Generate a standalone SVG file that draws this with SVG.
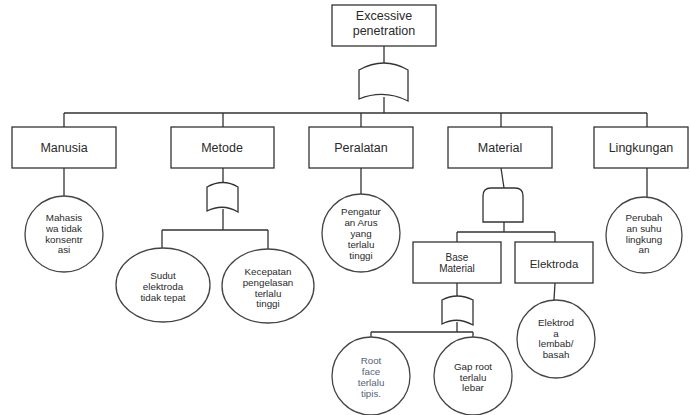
<svg xmlns="http://www.w3.org/2000/svg" width="690" height="415" viewBox="0 0 690 415">
  <defs>
    <style>
      .box { fill: #ffffff; stroke: #333333; stroke-width: 1.3; }
      .ev { fill: #ffffff; stroke: #444444; stroke-width: 1.3; }
      .gate { fill: #ffffff; stroke: #333333; stroke-width: 1.3; }
      .wire { fill: none; stroke: #333333; stroke-width: 1.3; }
      .lbl { font-family: "Liberation Sans", Arial, sans-serif; font-size: 12.5px; fill: #2a2a2a; text-anchor: middle; }
      .sm { font-family: "Liberation Sans", Arial, sans-serif; font-size: 9.8px; fill: #2a2a2a; text-anchor: middle; }
    </style>
  </defs>
  <rect width="690" height="415" fill="#ffffff"/>

  <!-- connectors -->
  <g id="connectors">
    <path class="wire" d="M384 46 V64 M384 97 V113 M64 113 H647 M64 113 V127 M223 113 V127 M361 113 V127 M501 113 V127 M647 113 V127"/>
    <path class="wire" d="M64 168 V196 M361 168 V194 M647 168 V197"/>
    <path class="wire" d="M223 168 V184 M223 209 V230 M162 230 H268 M162 230 V249 M268 230 V249"/>
    <path class="wire" d="M501 168 L504 188 M504 222 V232 M457 232 H555 M457 232 V242 M555 232 V242"/>
    <path class="wire" d="M457 283 V298 M457 322 V332 M371 332 H473 M371 332 V338 M473 332 V338"/>
    <path class="wire" d="M555 283 L554 300"/>
  </g>

  <!-- top event -->
  <g id="top">
    <rect class="box" x="332" y="5" width="104" height="41"/>
    <text class="lbl" x="384" y="20">Excessive</text>
    <text class="lbl" x="384" y="35">penetration</text>
  </g>

  <!-- OR gates -->
  <g id="gate-top">
    <path class="gate" d="M359 70 Q384 56 408 70 V101 Q384 89 359 99 Z"/>
  </g>
  <g id="gate-metode">
    <path class="gate" d="M207 187 Q223 178 238 187 V212 Q223 203 207 211 Z"/>
  </g>
  <g id="gate-base">
    <path class="gate" d="M442 300 Q457 292 473 300 V325 Q457 316 442 324 Z"/>
  </g>
  <!-- AND gate -->
  <g id="gate-material">
    <path class="gate" d="M483 222 V196 Q483 188 491 188 H515 Q523 188 523 196 V222 Z"/>
  </g>

  <!-- category boxes -->
  <g id="manusia">
    <rect class="box" x="12" y="127" width="104" height="41"/>
    <text class="lbl" x="64" y="152">Manusia</text>
  </g>
  <g id="metode">
    <rect class="box" x="171" y="127" width="103" height="41"/>
    <text class="lbl" x="222" y="152">Metode</text>
  </g>
  <g id="peralatan">
    <rect class="box" x="309" y="127" width="104" height="41"/>
    <text class="lbl" x="361" y="152">Peralatan</text>
  </g>
  <g id="material">
    <rect class="box" x="448" y="127" width="104" height="41"/>
    <text class="lbl" x="500" y="152">Material</text>
  </g>
  <g id="lingkungan">
    <rect class="box" x="594" y="127" width="94" height="41"/>
    <text class="lbl" x="641" y="152">Lingkungan</text>
  </g>
  <g id="base-material">
    <rect class="box" x="413" y="242" width="88" height="41"/>
    <text class="sm" x="457" y="261" style="font-size:10px">Base</text>
    <text class="sm" x="457" y="272" style="font-size:10px">Material</text>
  </g>
  <g id="elektroda">
    <rect class="box" x="515" y="242" width="78" height="41"/>
    <text class="lbl" x="554" y="268" style="font-size:11.5px">Elektroda</text>
  </g>

  <!-- basic events -->
  <g id="ev-mahasiswa">
    <ellipse class="ev" cx="64" cy="234" rx="39" ry="38"/>
    <text class="sm" x="64" y="221">Mahasis</text>
    <text class="sm" x="64" y="232">wa tidak</text>
    <text class="sm" x="64" y="242.5">konsentr</text>
    <text class="sm" x="64" y="253">asi</text>
  </g>
  <g id="ev-sudut">
    <ellipse class="ev" cx="163" cy="285" rx="47" ry="37"/>
    <text class="sm" x="163" y="279">Sudut</text>
    <text class="sm" x="163" y="290">elektroda</text>
    <text class="sm" x="163" y="300.5">tidak tepat</text>
  </g>
  <g id="ev-kecepatan">
    <ellipse class="ev" cx="268" cy="286" rx="46" ry="37"/>
    <text class="sm" x="268" y="275">Kecepatan</text>
    <text class="sm" x="268" y="286">pengelasan</text>
    <text class="sm" x="268" y="296.5">terlalu</text>
    <text class="sm" x="268" y="307">tinggi</text>
  </g>
  <g id="ev-arus">
    <circle class="ev" cx="361" cy="233" r="39"/>
    <text class="sm" x="361" y="215">Pengatur</text>
    <text class="sm" x="361" y="226">an Arus</text>
    <text class="sm" x="361" y="237">yang</text>
    <text class="sm" x="361" y="248">terlalu</text>
    <text class="sm" x="361" y="259">tinggi</text>
  </g>
  <g id="ev-suhu">
    <circle class="ev" cx="644" cy="235" r="38"/>
    <text class="sm" x="644" y="221">Perubah</text>
    <text class="sm" x="644" y="231.5">an suhu</text>
    <text class="sm" x="644" y="242.5">lingkung</text>
    <text class="sm" x="644" y="253">an</text>
  </g>
  <g id="ev-lembab">
    <circle class="ev" cx="556" cy="339" r="39"/>
    <text class="sm" x="556" y="326">Elektrod</text>
    <text class="sm" x="556" y="336.5">a</text>
    <text class="sm" x="556" y="347">lembab/</text>
    <text class="sm" x="556" y="358">basah</text>
  </g>
  <g id="ev-root">
    <circle class="ev" cx="371" cy="376" r="39"/>
    <text class="sm" x="371" y="364" style="fill:#55657a">Root</text>
    <text class="sm" x="371" y="375" style="fill:#55657a">face</text>
    <text class="sm" x="371" y="386" style="fill:#55657a">terlalu</text>
    <text class="sm" x="371" y="396.5" style="fill:#55657a">tipis.</text>
  </g>
  <g id="ev-gap">
    <circle class="ev" cx="473" cy="376" r="39"/>
    <text class="sm" x="473" y="370">Gap root</text>
    <text class="sm" x="473" y="380.5">terlalu</text>
    <text class="sm" x="473" y="391">lebar</text>
  </g>
</svg>
